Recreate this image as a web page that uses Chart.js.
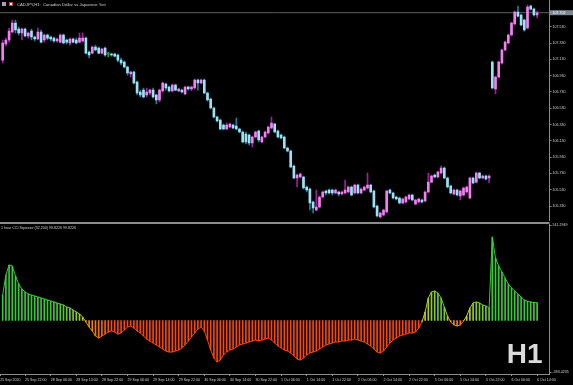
<!DOCTYPE html>
<html>
<head>
<meta charset="utf-8">
<title>CADJPY H1</title>
<script src="https://cdn.jsdelivr.net/npm/chart.js@4.4.1/dist/chart.umd.min.js"></script>
<style>
  html, body { margin: 0; padding: 0; background: #000; }
  #wrap { position: relative; width: 573px; height: 385px; background: #000; overflow: hidden; }
  #price { position: absolute; left: 0; top: 0; }
  #cci { position: absolute; left: 0; top: 222px; }
</style>
</head>
<body>
<div id="wrap">
  <canvas id="price" width="573" height="221"></canvas>
  <canvas id="cci" width="573" height="163"></canvas>
</div>
<script>
// H1 bars, oldest first (bar index = position on the time axis)
const openPrices = [
  107.121, 107.318, 107.367, 107.465, 107.575, 107.502, 107.453, 107.502, 107.416, 107.477,
  107.404, 107.379, 107.465, 107.367, 107.428, 107.404, 107.391, 107.355, 107.342, 107.428,
  107.367, 107.330, 107.379, 107.367, 107.342, 107.355, 107.391, 107.220, 107.207, 107.281,
  107.269, 107.207, 107.269, 107.195, 107.195, 107.195, 107.183, 107.121, 107.097, 107.036,
  106.950, 106.974, 106.852, 106.729, 106.753, 106.692, 106.717, 106.753, 106.692, 106.631,
  106.741, 106.827, 106.790, 106.741, 106.815, 106.741, 106.753, 106.704, 106.790, 106.766,
  106.778, 106.876, 106.839, 106.876, 106.717, 106.643, 106.533, 106.422, 106.385, 106.324,
  106.275, 106.299, 106.324, 106.312, 106.275, 106.238, 106.214, 106.201, 106.103, 106.177,
  106.250, 106.115, 106.177, 106.226, 106.287, 106.336, 106.250, 106.201, 106.177, 106.042,
  106.005, 105.821, 105.674, 105.686, 105.686, 105.563, 105.539, 105.379, 105.281, 105.318,
  105.440, 105.514, 105.526, 105.526, 105.490, 105.502, 105.477, 105.490, 105.502, 105.563,
  105.490, 105.588, 105.490, 105.526, 105.551, 105.588, 105.514, 105.330, 105.195, 105.220,
  105.256, 105.526, 105.490, 105.440, 105.428, 105.367, 105.379, 105.416, 105.465, 105.355,
  105.379, 105.404, 105.391, 105.502, 105.624, 105.710, 105.686, 105.735, 105.796, 105.674,
  105.575, 105.477, 105.526, 105.453, 105.465, 105.502, 105.428, 105.674, 105.624, 105.735,
  105.674, 105.698, 105.674, 107.097, 106.766, 106.913, 107.085, 107.244, 107.330, 107.428,
  107.563, 107.710, 107.674, 107.612, 107.514, 107.784, 107.747, 107.674
];
const highPrices = [
  107.367, 107.391, 107.514, 107.612, 107.612, 107.526, 107.514, 107.514, 107.465, 107.502,
  107.416, 107.514, 107.490, 107.440, 107.440, 107.416, 107.404, 107.391, 107.440, 107.440,
  107.379, 107.391, 107.391, 107.391, 107.453, 107.453, 107.404, 107.232, 107.293, 107.305,
  107.281, 107.269, 107.281, 107.220, 107.207, 107.207, 107.195, 107.146, 107.109, 107.048,
  106.986, 106.986, 106.864, 106.753, 106.778, 106.778, 106.766, 106.778, 106.704, 106.766,
  106.852, 106.839, 106.802, 106.827, 106.827, 106.778, 106.766, 106.802, 106.802, 106.802,
  106.888, 106.888, 106.888, 106.888, 106.729, 106.655, 106.545, 106.434, 106.398, 106.336,
  106.349, 106.349, 106.336, 106.410, 106.287, 106.250, 106.238, 106.214, 106.189, 106.250,
  106.263, 106.189, 106.250, 106.312, 106.422, 106.349, 106.263, 106.214, 106.189, 106.054,
  106.017, 105.833, 105.723, 105.735, 105.698, 105.575, 105.551, 105.391, 105.526, 105.453,
  105.514, 105.526, 105.539, 105.539, 105.539, 105.514, 105.514, 105.649, 105.575, 105.575,
  105.600, 105.600, 105.551, 105.575, 105.735, 105.600, 105.526, 105.342, 105.256, 105.293,
  105.526, 105.539, 105.502, 105.453, 105.440, 105.428, 105.453, 105.477, 105.477, 105.416,
  105.428, 105.416, 105.514, 105.735, 105.710, 105.723, 105.760, 105.821, 105.809, 105.686,
  105.588, 105.539, 105.539, 105.526, 105.563, 105.575, 105.686, 105.686, 105.747, 105.747,
  105.710, 105.710, 105.710, 107.109, 106.925, 107.109, 107.256, 107.355, 107.440, 107.588,
  107.723, 107.784, 107.686, 107.625, 107.796, 107.796, 107.759, 107.723
];
const lowPrices = [
  107.085, 107.293, 107.342, 107.453, 107.453, 107.428, 107.367, 107.404, 107.391, 107.367,
  107.355, 107.367, 107.330, 107.342, 107.367, 107.355, 107.342, 107.342, 107.330, 107.318,
  107.318, 107.305, 107.330, 107.318, 107.330, 107.342, 107.195, 107.146, 107.195, 107.232,
  107.195, 107.195, 107.170, 107.158, 107.170, 107.158, 107.097, 107.060, 107.023, 106.937,
  106.913, 106.827, 106.692, 106.668, 106.655, 106.668, 106.692, 106.655, 106.582, 106.606,
  106.729, 106.753, 106.729, 106.729, 106.741, 106.729, 106.717, 106.692, 106.753, 106.741,
  106.766, 106.753, 106.827, 106.704, 106.618, 106.520, 106.410, 106.361, 106.263, 106.263,
  106.263, 106.287, 106.275, 106.263, 106.226, 106.103, 106.091, 106.079, 106.054, 106.164,
  106.115, 106.103, 106.164, 106.214, 106.275, 106.226, 106.164, 106.152, 106.029, 105.993,
  105.796, 105.661, 105.563, 105.674, 105.539, 105.502, 105.281, 105.244, 105.269, 105.305,
  105.428, 105.465, 105.477, 105.465, 105.477, 105.453, 105.465, 105.477, 105.490, 105.453,
  105.477, 105.477, 105.477, 105.514, 105.539, 105.490, 105.305, 105.195, 105.183, 105.207,
  105.244, 105.477, 105.416, 105.404, 105.355, 105.355, 105.367, 105.404, 105.391, 105.342,
  105.367, 105.367, 105.379, 105.490, 105.612, 105.674, 105.674, 105.723, 105.661, 105.551,
  105.477, 105.465, 105.453, 105.404, 105.453, 105.490, 105.416, 105.600, 105.612, 105.661,
  105.661, 105.649, 105.612, 106.766, 106.704, 106.901, 107.072, 107.232, 107.318, 107.416,
  107.551, 107.649, 107.539, 107.477, 107.502, 107.735, 107.661, 107.637
];
const closePrices = [
  107.330, 107.367, 107.477, 107.575, 107.490, 107.453, 107.502, 107.416, 107.453, 107.404,
  107.379, 107.465, 107.342, 107.428, 107.391, 107.379, 107.355, 107.379, 107.428, 107.330,
  107.342, 107.379, 107.342, 107.330, 107.391, 107.391, 107.207, 107.183, 107.281, 107.244,
  107.207, 107.256, 107.183, 107.195, 107.183, 107.170, 107.121, 107.085, 107.036, 106.962,
  106.974, 106.839, 106.717, 106.692, 106.668, 106.729, 106.753, 106.668, 106.631, 106.753,
  106.839, 106.778, 106.741, 106.815, 106.753, 106.766, 106.729, 106.790, 106.766, 106.790,
  106.876, 106.839, 106.876, 106.717, 106.631, 106.533, 106.422, 106.373, 106.275, 106.275,
  106.324, 106.336, 106.287, 106.275, 106.238, 106.115, 106.115, 106.103, 106.177, 106.238,
  106.140, 106.177, 106.238, 106.299, 106.349, 106.238, 106.177, 106.164, 106.042, 106.005,
  105.809, 105.674, 105.710, 105.723, 105.551, 105.526, 105.367, 105.305, 105.318, 105.440,
  105.502, 105.490, 105.490, 105.490, 105.526, 105.477, 105.502, 105.526, 105.563, 105.465,
  105.588, 105.490, 105.539, 105.563, 105.588, 105.502, 105.318, 105.207, 105.244, 105.281,
  105.514, 105.490, 105.428, 105.416, 105.367, 105.416, 105.440, 105.465, 105.404, 105.404,
  105.416, 105.379, 105.502, 105.624, 105.698, 105.686, 105.747, 105.796, 105.674, 105.563,
  105.490, 105.526, 105.465, 105.514, 105.551, 105.563, 105.674, 105.612, 105.735, 105.674,
  105.698, 105.661, 105.698, 106.778, 106.913, 107.097, 107.244, 107.342, 107.428, 107.575,
  107.710, 107.661, 107.551, 107.490, 107.772, 107.747, 107.674, 107.702
];
// 1 hour CCI Squeeze histogram, one value per bar
const cciValues = [
  143.0, 255.2, 311.3, 305.7, 249.6, 204.7, 176.7, 159.9, 148.6, 143.0,
  137.4, 131.8, 126.2, 120.6, 115.0, 109.4, 103.8, 98.2, 92.5, 86.9,
  75.7, 70.1, 58.9, 47.7, 36.5, 19.6, -8.4, -36.5, -58.9, -86.9,
  -98.2, -86.9, -75.7, -64.5, -58.9, -64.5, -75.7, -70.1, -53.3, -36.5,
  -30.8, -42.1, -58.9, -70.1, -86.9, -103.8, -115.0, -126.2, -137.4, -148.6,
  -159.9, -171.1, -176.7, -176.7, -171.1, -165.5, -154.2, -137.4, -115.0, -92.5,
  -70.1, -47.7, -36.5, -58.9, -109.4, -165.5, -210.3, -232.8, -221.6, -193.5,
  -176.7, -165.5, -159.9, -148.6, -137.4, -131.8, -126.2, -120.6, -115.0, -109.4,
  -115.0, -109.4, -103.8, -98.2, -109.4, -126.2, -143.0, -154.2, -165.5, -171.1,
  -182.3, -199.1, -215.9, -221.6, -210.3, -193.5, -182.3, -176.7, -171.1, -159.9,
  -148.6, -137.4, -131.8, -126.2, -120.6, -120.6, -115.0, -115.0, -109.4, -109.4,
  -103.8, -109.4, -115.0, -120.6, -131.8, -143.0, -159.9, -176.7, -182.3, -171.1,
  -148.6, -126.2, -109.4, -98.2, -86.9, -81.3, -75.7, -70.1, -70.1, -64.5,
  -42.1, -8.4, 47.7, 126.2, 159.9, 165.5, 154.2, 126.2, 75.7, 25.2,
  -8.4, -25.2, -30.8, -25.2, -2.8, 25.2, 70.1, 98.2, 103.8, 98.2,
  86.9, 81.3, 70.1, 468.4, 350.6, 305.7, 272.0, 238.4, 204.7, 182.3,
  165.5, 148.6, 131.8, 115.0, 108.0, 104.0, 101.0, 99.8
];

const priceTicks = [107.530, 107.330, 107.130, 106.930, 106.730, 106.530, 106.330, 106.130, 105.930, 105.730, 105.530, 105.330];
const cciTickLabels = ['541.2949', '-393.4235'];
const xTickBars = [-0.8, 7, 15, 23, 31, 39, 47, 55, 63, 71, 79, 87, 95, 103, 111, 119, 127, 135, 143, 151, 159, 167];
const xTickLabels = ['25 Sep 2020', '25 Sep 22:00', '28 Sep 06:00', '28 Sep 14:00', '28 Sep 22:00', '29 Sep 06:00',
  '29 Sep 14:00', '29 Sep 22:00', '30 Sep 06:00', '30 Sep 14:00', '30 Sep 22:00', '1 Oct 06:00', '1 Oct 14:00',
  '1 Oct 22:00', '2 Oct 06:00', '2 Oct 14:00', '2 Oct 22:00', '5 Oct 06:00', '5 Oct 14:00', '5 Oct 22:00',
  '6 Oct 06:00', '6 Oct 14:00'];

const chartTitle = 'CADJPY,H1:  Canadian Dollar vs Japanese Yen';
const cciTitle = '1 hour CCI Squeeze (32,200) 99.8226 99.8226';
const bidPrice = closePrices[closePrices.length - 1];

const xMin = -0.84, xMax = 170.87;
const axisGray = '#8c8c8c';
const textGray = '#d0d0d0';
const priceFont = { family: 'Liberation Sans', size: 3.6 };
const timeFont = { family: 'Liberation Sans', size: 3.6 };

const barIdx = openPrices.map((o, i) => i);
const bodyColors = barIdx.map(i => closePrices[i] > openPrices[i] ? '#f280f2' : closePrices[i] < openPrices[i] ? '#9ce2f4' : '#1faa1f');
const wickColors = barIdx.map(i => closePrices[i] > openPrices[i] ? '#a01fa0' : closePrices[i] < openPrices[i] ? '#1a7f9e' : '#1faa1f');

function mix(a, b, t) {
  return 'rgb(' + a.map((c, k) => Math.round(c + (b[k] - c) * t)).join(',') + ')';
}
const cciColors = cciValues.map((v, i) => {
  let k = 0;
  while (i - k - 1 >= 0 && Math.sign(cciValues[i - k - 1]) === Math.sign(v)) k++;
  if (i - k === 0) k = 20;
  if (v >= 0) {
    const t = Math.min(v / 110, 1) * Math.min((k + 1) / 8, 1);
    return mix([205, 205, 25], [50, 205, 50], t);
  }
  return mix([238, 160, 0], [255, 69, 0], Math.min((k + 1) / 10, 1));
});

const priceOverlay = {
  id: 'priceOverlay',
  afterDraw(chart) {
    const ctx = chart.ctx, area = chart.chartArea;
    ctx.save();
    ctx.fillStyle = '#86aee0'; ctx.fillRect(2, 2, 2, 4);
    ctx.fillStyle = '#e2808e'; ctx.fillRect(4, 2, 2, 4);
    ctx.fillStyle = '#d23a3a'; ctx.fillRect(9, 2, 4, 4);
    ctx.fillStyle = '#f0f0f0'; ctx.fillRect(10, 3, 2, 2);
    ctx.font = '4.2px "Liberation Sans"';
    ctx.textBaseline = 'middle';
    ctx.fillStyle = textGray;
    ctx.fillText(chartTitle, 17, 5);
    const py = chart.scales.y.getPixelForValue(bidPrice);
    ctx.fillStyle = '#7b8793';
    ctx.fillRect(area.right + 0.5, py - 2.5, chart.width - area.right, 5);
    ctx.font = '3.6px "Liberation Sans"';
    ctx.fillStyle = '#ffffff';
    ctx.fillText(bidPrice.toFixed(3), area.right + 3, py);
    ctx.restore();
  }
};

const cciOverlay = {
  id: 'cciOverlay',
  beforeDraw(chart) {
    const ctx = chart.ctx;
    ctx.save();
    ctx.fillStyle = axisGray;
    ctx.fillRect(0, 0, chart.chartArea.right, 2);
    ctx.restore();
  },
  afterDraw(chart) {
    const ctx = chart.ctx;
    ctx.save();
    ctx.font = '3.6px "Liberation Sans"';
    ctx.textBaseline = 'middle';
    ctx.fillStyle = textGray;
    ctx.fillText(cciTitle, 1, 6.3);
    ctx.font = 'bold 28px "Liberation Sans"';
    ctx.textBaseline = 'alphabetic';
    ctx.fillStyle = '#dadada';
    ctx.fillText('H1', 506.7, 141.3);
    ctx.restore();
  }
};

new Chart(document.getElementById('price'), {
  type: 'bar',
  data: {
    datasets: [{
      label: 'body',
      data: barIdx.map(i => ({ x: i, y: [openPrices[i], closePrices[i]] })),
      backgroundColor: bodyColors,
      barThickness: 2,
      minBarLength: 1,
      grouped: false,
      order: 0
    }, {
      label: 'wick',
      data: barIdx.map(i => ({ x: i, y: [lowPrices[i], highPrices[i]] })),
      backgroundColor: wickColors,
      barThickness: 1,
      grouped: false,
      order: 1
    }, {
      type: 'line',
      label: 'bid',
      data: [{ x: xMin, y: bidPrice }, { x: xMax, y: bidPrice }],
      borderColor: '#5e5e5e',
      borderWidth: 1,
      pointRadius: 0,
      order: 2
    }]
  },
  options: {
    responsive: false,
    devicePixelRatio: 1,
    animation: false,
    layout: { padding: 0 },
    plugins: { legend: { display: false }, tooltip: { enabled: false } },
    scales: {
      x: { type: 'linear', min: xMin, max: xMax, bounds: 'data', offset: false, display: false },
      y: {
        position: 'right',
        min: 105.146,
        max: 107.858,
        bounds: 'data',
        afterFit: s => { s.width = 23.5; s.paddingTop = 0; s.paddingBottom = 0; },
        afterBuildTicks: s => { s.ticks = priceTicks.map(v => ({ value: v })); },
        ticks: { color: textGray, font: priceFont, padding: 1, callback: v => Number(v).toFixed(3) },
        grid: { drawOnChartArea: false, drawTicks: true, tickLength: 2, color: axisGray },
        border: { display: true, color: axisGray, width: 1 }
      }
    }
  },
  plugins: [priceOverlay]
});

new Chart(document.getElementById('cci'), {
  type: 'bar',
  data: {
    datasets: [{
      type: 'line',
      label: 'cci line',
      data: barIdx.map(i => ({ x: i, y: cciValues[i] })),
      borderWidth: 1,
      pointRadius: 0,
      segment: { borderColor: c => cciColors[c.p1DataIndex] },
      order: 0
    }, {
      label: 'cci',
      data: barIdx.map(i => ({ x: i, y: cciValues[i] })),
      backgroundColor: cciColors,
      barThickness: 1,
      grouped: false,
      order: 1
    }]
  },
  options: {
    responsive: false,
    devicePixelRatio: 1,
    animation: false,
    layout: { padding: { top: 2 } },
    plugins: { legend: { display: false }, tooltip: { enabled: false } },
    scales: {
      x: {
        type: 'linear',
        min: xMin,
        max: xMax,
        bounds: 'data',
        offset: false,
        position: 'bottom',
        afterFit: s => { s.height = 11; s.paddingLeft = 0; s.paddingRight = 0; },
        afterBuildTicks: s => { s.ticks = xTickBars.map(v => ({ value: v })); },
        ticks: {
          color: textGray, font: timeFont, padding: 1.5, align: 'start',
          autoSkip: false, maxRotation: 0, minRotation: 0,
          callback: (v, i) => xTickLabels[i]
        },
        grid: { drawOnChartArea: false, drawTicks: true, tickLength: 2, color: axisGray, offset: false },
        border: { display: true, color: axisGray, width: 1 }
      },
      y: {
        position: 'right',
        min: -300.08,
        max: 541.2949,
        bounds: 'data',
        afterFit: s => { s.width = 23.5; s.paddingTop = 0; s.paddingBottom = 0; },
        afterBuildTicks: s => { s.ticks = [{ value: 533 }, { value: -289 }]; },
        ticks: { color: textGray, font: priceFont, padding: 1, callback: (v, i) => cciTickLabels[i] },
        grid: { drawOnChartArea: false, drawTicks: true, tickLength: 2, color: axisGray },
        border: { display: true, color: axisGray, width: 1 }
      }
    }
  },
  plugins: [cciOverlay]
});
</script>
</body>
</html>
